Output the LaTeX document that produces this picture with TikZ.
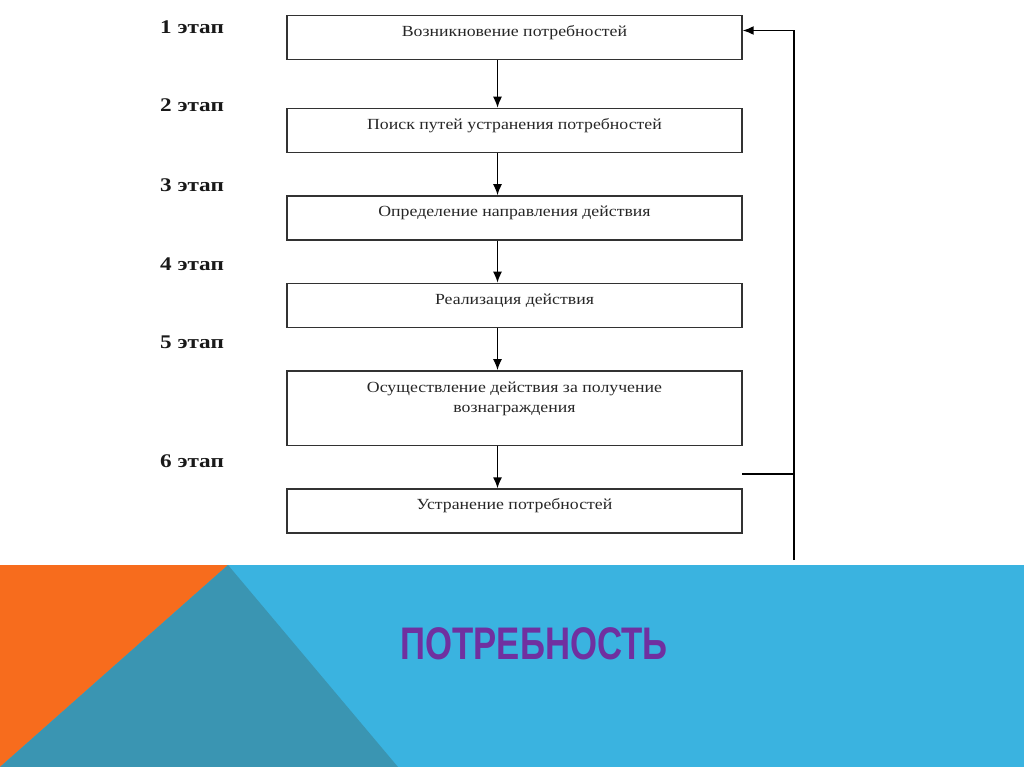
\documentclass[tikz,border=0pt]{standalone}
\usepackage{fontspec}
\setmainfont{Liberation Serif}
\newfontfamily\boxfont[FakeStretch=1.15]{Liberation Serif}
\newfontfamily\stagefont[FakeStretch=1.2]{Liberation Serif}
\newfontfamily\titlefont[FakeStretch=0.76]{Liberation Sans}
\usetikzlibrary{arrows, arrows.meta, calc, positioning}
\definecolor{bandblue}{RGB}{58,179,224}
\definecolor{bandorange}{RGB}{247,108,29}
\definecolor{bandteal}{RGB}{58,149,178}
\definecolor{titlepurple}{RGB}{112,48,160}
\definecolor{boxgray}{RGB}{50,50,50}
\tikzstyle{stagebox} = [rectangle, draw=boxgray, line width=0.85pt, minimum width=9.1cm, minimum height=0.88cm, text height=1.8ex, text depth=2.1ex, align=center, text=black!85, font=\boxfont\fontsize{8.8}{11.4}\selectfont]
\tikzstyle{stage} = [font=\stagefont\bfseries\fontsize{11}{13}\selectfont, text=black!90]
\tikzstyle{arrow} = [line width=0.85pt,->,>={Latex[length=2.2mm,width=1.8mm]}]

\begin{document}
\begin{tikzpicture}[x=0.02cm, y=-0.02cm, node distance = 0.84cm]
	\useasboundingbox (0,0) rectangle (1024,767);
	% bottom band
	\fill[bandblue] (0,565) rectangle (1024,767);
	\fill[bandorange] (0,565) -- (228,565) -- (0,767) -- cycle;
	\fill[bandteal] (228,565) -- (398,767) -- (0,767) -- cycle;
	\node (title) [text=titlepurple, font=\titlefont\bfseries\fontsize{26}{30}\selectfont] at (534,644) {ПОТРЕБНОСТЬ};

	% steps
	\node (b1) [stagebox] at (514.5,37.5) {Возникновение потребностей};
	\node (b2) [stagebox, below=0.95cm of b1] {Поиск путей устранения потребностей};
	\node (b3) [stagebox, below=of b2] {Определение направления действия};
	\node (b4) [stagebox, below=of b3] {Реализация действия};
	\node (b5) [stagebox, below=of b4, minimum height=1.48cm, text height=0.72cm, text depth=0.54cm] {Осуществление действия за получение\\вознаграждения};
	\node (b6) [stagebox, below=of b5] {Устранение потребностей};

	\node (s1) [stage] at (192,27) {1 этап};
	\node (s2) [stage] at (192,105) {2 этап};
	\node (s3) [stage] at (192,185) {3 этап};
	\node (s4) [stage] at (192,264) {4 этап};
	\node (s5) [stage] at (192,342) {5 этап};
	\node (s6) [stage] at (192,461) {6 этап};

	\foreach \a/\b in {b1/b2, b2/b3, b3/b4, b4/b5, b5/b6}
		\draw [arrow] ([xshift=-3.4mm]\a.south) -- ([xshift=-3.4mm]\b.north);

	% feedback loop
	\coordinate (fbA) at (742,474);
	\coordinate (fbB) at (794,474);
	\coordinate (fbC) at (794,560);
	\draw [line width=0.85pt] (fbA) -- (fbB);
	\draw [arrow] (fbC) |- ([yshift=1.4mm]b1.east);
\end{tikzpicture}
\end{document}
